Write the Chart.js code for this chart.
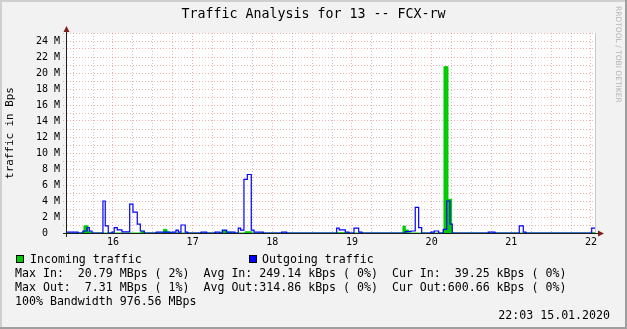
<!DOCTYPE html>
<html>
<head>
<meta charset="utf-8">
<script src="https://cdn.jsdelivr.net/npm/chart.js@4.4.1/dist/chart.umd.min.js"></script>
<style>
  html, body { margin: 0; padding: 0; background: #f2f2f2; }
  #wrap { position: relative; width: 627px; height: 329px; overflow: hidden; }
  #wrap canvas { position: absolute; left: 0; top: 0; }
  .txt { position: absolute; font-family: "DejaVu Sans Mono", monospace; color: #000; white-space: pre; font-size: 11.6px; line-height: 14px; }
  .box { position: absolute; width: 8px; height: 8px; box-sizing: border-box; border: 1px solid #000; }
</style>
</head>
<body>
<div id="wrap">
  <canvas id="graph" width="627" height="329"></canvas>
  <div class="txt" id="title" style="left:0; top:6px; width:627px; text-align:center; font-size:13.3px; line-height:16px;">Traffic Analysis for 13 -- FCX-rw</div>
  <div class="txt" style="left:613px; top:6px; writing-mode:vertical-rl; font-family:'DejaVu Sans', sans-serif; font-size:7.5px; line-height:10px; color:#b4b4b4;">RRDTOOL / TOBI OETIKER</div>
  <div class="box" style="left:16px; top:255px; background:#00cc00;"></div>
  <div class="txt" style="left:30px; top:252px;">Incoming traffic</div>
  <div class="box" style="left:249px; top:255px; background:#0000ff;"></div>
  <div class="txt" style="left:262px; top:252px;">Outgoing traffic</div>
  <div class="txt" style="left:15px; top:266px;">Max In:  20.79 MBps ( 2%)  Avg In: 249.14 kBps ( 0%)  Cur In:  39.25 kBps ( 0%)
Max Out:  7.31 MBps ( 1%)  Avg Out:314.86 kBps ( 0%)  Cur Out:600.66 kBps ( 0%)
100% Bandwidth 976.56 MBps</div>
  <div class="txt" style="right:17px; top:308px;">22:03 15.01.2020</div>
</div>
<script>
// time in days (day of month), values in MBps; each value holds until the next time
const inTimes  = [15.423, 15.623, 15.636, 15.686, 15.715, 16.351, 16.393, 16.636, 16.678, 16.719,
                  17.372, 17.427, 17.49, 17.657, 17.741, 18.808, 18.962, 19.64, 19.669, 19.712,
                  20.146, 20.155, 20.205, 20.251, 22.009, 22.063];
const inValues = [0, 0.2, 0.9, 0.2, 0, 0.2, 0, 0.45, 0.12, 0,
                  0.3, 0.1, 0, 0.15, 0, 0.04, 0, 0.87, 0.37, 0,
                  0.45, 20.79, 4.2, 0, 0.04, 0.04];

const outTimes  = [15.423, 15.561, 15.623, 15.674, 15.703, 15.736, 15.874, 15.903, 15.941, 15.987,
                   16.016, 16.054, 16.113, 16.21, 16.251, 16.305, 16.343, 16.393, 16.543, 16.715,
                   16.741, 16.791, 16.82, 16.854, 16.907, 16.938, 17.105, 17.176, 17.28, 17.343,
                   17.372, 17.427, 17.531, 17.573, 17.603, 17.644, 17.686, 17.736, 17.77, 17.887,
                   18.117, 18.18, 18.808, 18.84, 18.916, 18.962, 19.025, 19.084, 19.125, 19.669,
                   19.74, 19.794, 19.837, 19.875, 19.991, 20.033, 20.088, 20.146, 20.189, 20.23,
                   20.259, 20.711, 20.795, 21.1, 21.15, 21.184, 22.009, 22.063];
const outValues = [0.12, 0, 0.25, 0.66, 0.25, 0, 4.0, 0.9, 0, 0.12,
                   0.66, 0.4, 0.15, 3.6, 2.6, 1.1, 0.25, 0, 0.12, 0,
                   0.1, 0.35, 0.1, 1.0, 0.1, 0, 0.1, 0, 0.1, 0,
                   0.35, 0.1, 0, 0.6, 0.35, 6.7, 7.31, 0.35, 0.1, 0,
                   0.1, 0, 0.6, 0.4, 0.1, 0, 0.6, 0.1, 0, 0.17,
                   0.25, 3.2, 0.66, 0, 0.12, 0.25, 0, 0.45, 4.0, 1.1,
                   0, 0.12, 0, 0.9, 0.1, 0, 0.6, 0.6];

const dayTicks = [16, 17, 18, 19, 20, 21, 22];
const xStart = 15.423, xEnd = 22.063;
const yMax = 25;

const monoFont = "'DejaVu Sans Mono', monospace";
const gridMinor = 'rgba(143,143,143,0.5)';
const gridMajor = 'rgba(222,79,79,0.45)';

function toPoints(t, v) {
    return t.map((x, i) => ({ x: x, y: v[i] }));
}

// background, canvas, shading, axes and arrows like rrdtool
const rrdFrame = {
    id: 'rrdFrame',
    beforeDraw(chart) {
        const c = chart.ctx, a = chart.chartArea;
        c.save();
        c.fillStyle = '#f2f2f2';
        c.fillRect(0, 0, chart.width, chart.height);
        c.fillStyle = '#cfcfcf';
        c.fillRect(0, 0, chart.width, 2);
        c.fillRect(0, 0, 2, chart.height);
        c.fillStyle = '#9e9e9e';
        c.fillRect(chart.width - 2, 0, 2, chart.height);
        c.fillRect(0, chart.height - 2, chart.width, 2);
        c.fillStyle = '#ffffff';
        c.fillRect(a.left, a.top, a.right - a.left, a.bottom - a.top);
        c.restore();
    },
    afterDatasetsDraw(chart) {
        const c = chart.ctx, a = chart.chartArea;
        c.save();
        c.lineWidth = 1;
        c.strokeStyle = '#c8c8c8';
        c.beginPath();
        c.moveTo(a.right - 0.5, a.top);
        c.lineTo(a.right - 0.5, a.bottom);
        c.stroke();

        c.strokeStyle = 'rgb(31,31,31)';
        c.beginPath();
        c.moveTo(a.left - 0.5, a.bottom + 4);
        c.lineTo(a.left - 0.5, a.top - 2);
        c.moveTo(a.left - 4, a.bottom + 0.5);
        c.lineTo(a.right + 3, a.bottom + 0.5);
        c.stroke();

        c.fillStyle = 'rgb(128,31,31)';
        c.beginPath();
        c.moveTo(a.left - 0.5, a.top - 7);
        c.lineTo(a.left - 3.5, a.top - 1);
        c.lineTo(a.left + 2.5, a.top - 1);
        c.closePath();
        c.fill();
        c.beginPath();
        c.moveTo(a.right + 8, a.bottom + 0.5);
        c.lineTo(a.right + 2, a.bottom - 2.5);
        c.lineTo(a.right + 2, a.bottom + 3.5);
        c.closePath();
        c.fill();
        c.restore();
    }
};

new Chart(document.getElementById('graph'), {
    type: 'line',
    data: {
        datasets: [{
            label: 'Outgoing traffic',
            data: toPoints(outTimes, outValues),
            stepped: 'before',
            borderColor: '#0000ff',
            borderWidth: 1.2,
            pointRadius: 0,
            fill: false,
            order: 0
        }, {
            label: 'Incoming traffic',
            data: toPoints(inTimes, inValues),
            stepped: 'before',
            borderColor: '#00cc00',
            backgroundColor: '#00cc00',
            borderWidth: 1,
            pointRadius: 0,
            fill: 'origin',
            order: 1
        }]
    },
    options: {
        responsive: false,
        animation: false,
        layout: { padding: { top: 33, right: 31, bottom: 0, left: 0 } },
        plugins: {
            legend: { display: false },
            tooltip: { enabled: false },
            title: { display: false }
        },
        scales: {
            x: {
                type: 'linear',
                min: xStart,
                max: xEnd,
                afterBuildTicks: s => {
                    const t = [];
                    for (let v = 15.5; v <= 22.001; v += 0.25) t.push({ value: +v.toFixed(2) });
                    s.ticks = t;
                },
                afterFit: s => { s.height = 96; },
                ticks: {
                    autoSkip: false,
                    maxRotation: 0,
                    padding: 3,
                    color: '#000',
                    font: { family: monoFont, size: 10 },
                    callback: v => dayTicks.includes(v) ? String(v) : ''
                },
                grid: {
                    color: c => (c.tick && Number.isInteger(c.tick.value)) ? gridMajor : gridMinor,
                    drawTicks: false
                },
                border: { display: false, dash: [1, 2] }
            },
            y: {
                min: 0,
                max: yMax,
                afterFit: s => { s.width = 67; },
                ticks: {
                    stepSize: 1,
                    autoSkip: false,
                    padding: 3,
                    color: '#000',
                    font: { family: monoFont, size: 10 },
                    callback: v => (v % 2) ? '' : (v === 0 ? '0  ' : v + ' M')
                },
                grid: { color: gridMajor, drawTicks: true, tickLength: 4, tickBorderDash: [1, 2] },
                border: { display: false, dash: [1, 2] },
                title: {
                    display: true,
                    text: 'traffic in Bps',
                    color: '#000',
                    font: { family: monoFont, size: 10.9 },
                    padding: { top: 4, bottom: 0 }
                }
            }
        }
    },
    plugins: [rrdFrame]
});
</script>
</body>
</html>
